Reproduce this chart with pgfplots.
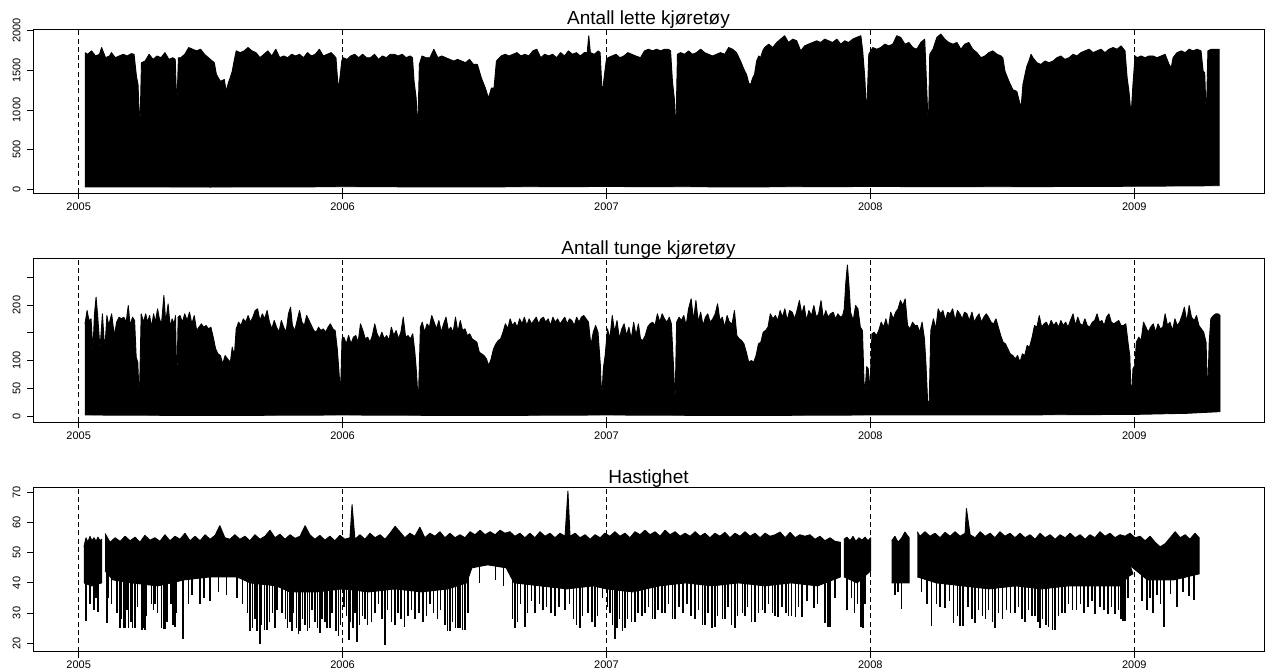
\documentclass[border=0pt]{standalone}
\usepackage{fontspec}
\setmainfont{Liberation Sans}
\usepackage{pgfplots}
\usepackage{pgfplotstable}
\pgfplotsset{compat=1.18}

\pgfplotsset{
  panel/.style={
    scale only axis, width=1231pt, height=164pt, anchor=north west,
    xmin=2004.827, xmax=2009.4915,
    xtick={2005,2006,2007,2008,2009},
    xticklabels={2005,2006,2007,2008,2009},
    tick align=outside, major tick length=6pt, tick pos=left,
    xmajorgrids, major grid style={black, line width=1pt, dash pattern=on 5pt off 3.3pt},
    axis line style={line width=0.9pt}, tick style={black, line width=0.8pt},
    ticklabel style={font=\fontsize{11}{13}\selectfont},
    xticklabel style={anchor=north, inner sep=0pt, yshift=-3.4pt},
    yticklabel style={rotate=90, anchor=south, inner sep=0pt, yshift=6.3pt},
    title style={at={(0.5,1)}, anchor=base, yshift=-1.7pt, inner sep=0pt, font=\fontsize{19}{22}\selectfont},
    cycle list={{black, fill=black, line width=0.9pt, line join=round, mark=none}},
  },
  band/.style={black, fill=black, line width=0.9pt, line join=round, mark=none},
  spikes/.style={draw=none, fill=none, mark=none, forget plot,
    error bars/.cd, y dir=plus, y explicit, error mark=none,
    error bar style={draw=black, solid, line width=1.3pt}},
}

% ---------- Panel 1: upper and lower envelopes ----------
\pgfplotstableread{
2005.024 1723
2005.034 1702
2005.049 1745
2005.064 1681
2005.079 1702
2005.087 1787
2005.102 1659
2005.117 1681
2005.124 1723
2005.139 1659
2005.154 1681
2005.169 1702
2005.184 1681
2005.199 1710
2005.210 1702
2005.219 1425
2005.225 1319
2005.232 723
2005.238 1596
2005.252 1617
2005.267 1702
2005.282 1638
2005.297 1681
2005.312 1659
2005.327 1723
2005.342 1638
2005.357 1659
2005.366 1638
2005.372 1021
2005.378 1659
2005.387 1659
2005.402 1702
2005.417 1787
2005.432 1766
2005.447 1745
2005.462 1766
2005.477 1702
2005.499 1638
2005.514 1596
2005.522 1447
2005.537 1362
2005.552 1383
2005.559 1234
2005.567 1340
2005.574 1404
2005.582 1489
2005.589 1617
2005.597 1745
2005.612 1723
2005.627 1745
2005.642 1787
2005.657 1745
2005.672 1723
2005.687 1659
2005.702 1702
2005.717 1745
2005.732 1681
2005.747 1766
2005.762 1659
2005.777 1681
2005.792 1659
2005.807 1702
2005.822 1681
2005.837 1702
2005.852 1659
2005.867 1723
2005.882 1681
2005.897 1702
2005.912 1766
2005.927 1681
2005.942 1702
2005.957 1723
2005.969 1681
2005.975 1659
2005.984 1255
2005.990 1404
2005.997 1617
2006.002 1659
2006.017 1638
2006.031 1681
2006.046 1702
2006.061 1659
2006.076 1702
2006.091 1659
2006.106 1659
2006.121 1702
2006.136 1638
2006.151 1681
2006.166 1659
2006.181 1702
2006.196 1702
2006.211 1681
2006.226 1702
2006.241 1659
2006.256 1681
2006.265 1659
2006.271 1362
2006.279 1149
2006.285 723
2006.291 1574
2006.301 1681
2006.316 1659
2006.331 1659
2006.346 1766
2006.361 1659
2006.376 1681
2006.391 1659
2006.406 1638
2006.421 1617
2006.436 1638
2006.451 1617
2006.466 1596
2006.481 1638
2006.496 1574
2006.511 1574
2006.526 1404
2006.541 1277
2006.553 1149
2006.564 1277
2006.574 1277
2006.583 1617
2006.601 1681
2006.616 1702
2006.631 1681
2006.646 1702
2006.661 1723
2006.676 1681
2006.691 1702
2006.706 1681
2006.721 1745
2006.736 1766
2006.751 1659
2006.766 1702
2006.781 1681
2006.796 1702
2006.811 1659
2006.826 1723
2006.841 1681
2006.856 1745
2006.871 1702
2006.886 1723
2006.901 1681
2006.916 1723
2006.927 1723
2006.933 1936
2006.939 1723
2006.954 1702
2006.969 1745
2006.976 1723
2006.984 1191
2006.991 1404
2006.999 1617
2007.006 1659
2007.021 1681
2007.036 1702
2007.051 1659
2007.066 1681
2007.081 1723
2007.096 1702
2007.111 1681
2007.129 1659
2007.144 1745
2007.159 1766
2007.175 1745
2007.190 1766
2007.205 1745
2007.220 1766
2007.235 1766
2007.243 1745
2007.250 1362
2007.257 1149
2007.263 723
2007.269 1702
2007.281 1723
2007.296 1702
2007.311 1745
2007.326 1702
2007.341 1723
2007.357 1766
2007.372 1723
2007.387 1702
2007.402 1681
2007.417 1702
2007.432 1723
2007.448 1702
2007.463 1787
2007.478 1766
2007.493 1723
2007.508 1617
2007.524 1489
2007.531 1447
2007.539 1340
2007.546 1319
2007.554 1404
2007.561 1447
2007.569 1617
2007.577 1681
2007.584 1659
2007.592 1745
2007.599 1787
2007.615 1830
2007.630 1787
2007.645 1851
2007.660 1893
2007.675 1936
2007.690 1851
2007.706 1893
2007.721 1872
2007.736 1745
2007.751 1808
2007.766 1830
2007.781 1851
2007.797 1872
2007.812 1851
2007.827 1893
2007.842 1872
2007.857 1851
2007.873 1893
2007.888 1830
2007.903 1872
2007.918 1851
2007.933 1893
2007.948 1915
2007.964 1936
2007.971 1745
2007.979 1404
2007.986 936
2007.994 1702
2008.009 1787
2008.024 1766
2008.039 1787
2008.055 1830
2008.070 1808
2008.085 1830
2008.100 1936
2008.115 1915
2008.131 1830
2008.146 1851
2008.161 1787
2008.176 1766
2008.191 1851
2008.206 1893
2008.211 1489
2008.215 1149
2008.220 723
2008.225 1702
2008.237 1766
2008.252 1915
2008.267 1957
2008.282 1893
2008.297 1851
2008.313 1830
2008.328 1851
2008.343 1766
2008.358 1830
2008.373 1851
2008.388 1766
2008.404 1723
2008.419 1659
2008.434 1681
2008.449 1723
2008.464 1745
2008.480 1702
2008.495 1681
2008.502 1659
2008.510 1489
2008.525 1362
2008.540 1255
2008.555 1234
2008.563 1128
2008.571 1021
2008.578 1319
2008.586 1447
2008.593 1553
2008.601 1617
2008.609 1702
2008.616 1659
2008.631 1596
2008.646 1574
2008.662 1617
2008.677 1596
2008.692 1617
2008.707 1659
2008.722 1681
2008.737 1638
2008.753 1659
2008.768 1702
2008.783 1681
2008.798 1723
2008.813 1745
2008.829 1766
2008.844 1723
2008.859 1745
2008.874 1766
2008.889 1723
2008.904 1766
2008.920 1787
2008.935 1766
2008.950 1808
2008.965 1745
2008.973 1404
2008.980 1234
2008.988 936
2008.995 1319
2009.003 1681
2009.011 1659
2009.026 1681
2009.041 1659
2009.056 1681
2009.071 1681
2009.086 1659
2009.102 1681
2009.117 1702
2009.132 1574
2009.140 1532
2009.147 1659
2009.162 1723
2009.178 1745
2009.193 1723
2009.208 1766
2009.223 1745
2009.238 1766
2009.253 1745
2009.261 1489
2009.267 1468
2009.273 872
2009.279 1745
2009.291 1766
2009.306 1766
2009.322 1766
}\topone
\pgfplotstableread{
2005.024 30
2005.500 28
2006.000 32
2006.500 30
2007.000 35
2007.500 30
2008.000 35
2008.500 32
2009.000 38
2009.322 45
}\botone

% ---------- Panel 2 ----------
\pgfplotstableread{
2005.024 166
2005.032 190
2005.039 172
2005.047 175
2005.054 118
2005.060 184
2005.066 214
2005.072 181
2005.081 121
2005.090 184
2005.099 118
2005.107 181
2005.114 163
2005.125 184
2005.135 145
2005.144 169
2005.153 178
2005.162 175
2005.171 178
2005.180 169
2005.188 199
2005.195 163
2005.204 178
2005.212 172
2005.218 106
2005.224 97
2005.230 26
2005.237 184
2005.246 169
2005.254 184
2005.261 169
2005.269 181
2005.276 160
2005.284 184
2005.291 169
2005.299 193
2005.306 175
2005.314 166
2005.323 217
2005.330 169
2005.339 202
2005.347 160
2005.354 175
2005.362 166
2005.367 181
2005.372 50
2005.377 178
2005.384 181
2005.393 169
2005.402 184
2005.411 172
2005.420 187
2005.429 166
2005.438 181
2005.447 154
2005.456 160
2005.465 166
2005.474 160
2005.483 163
2005.492 157
2005.501 160
2005.510 142
2005.519 121
2005.528 112
2005.537 109
2005.546 94
2005.555 109
2005.564 103
2005.575 97
2005.582 124
2005.590 109
2005.597 157
2005.606 169
2005.615 163
2005.624 175
2005.633 169
2005.642 181
2005.651 169
2005.660 178
2005.669 190
2005.678 193
2005.687 172
2005.696 184
2005.705 175
2005.714 190
2005.723 169
2005.732 157
2005.741 172
2005.750 160
2005.759 151
2005.768 172
2005.777 160
2005.786 151
2005.795 184
2005.803 196
2005.810 163
2005.819 154
2005.828 172
2005.837 190
2005.846 169
2005.855 163
2005.864 181
2005.873 172
2005.882 163
2005.891 154
2005.900 151
2005.909 160
2005.918 154
2005.927 157
2005.936 151
2005.945 160
2005.954 166
2005.963 157
2005.972 154
2005.980 121
2005.986 83
2005.992 38
2005.998 139
2006.005 142
2006.014 130
2006.023 145
2006.032 130
2006.041 142
2006.050 145
2006.059 133
2006.068 166
2006.077 154
2006.086 139
2006.095 142
2006.104 133
2006.113 145
2006.122 166
2006.131 148
2006.140 139
2006.149 151
2006.158 139
2006.167 145
2006.176 136
2006.185 160
2006.194 145
2006.203 154
2006.212 139
2006.221 151
2006.230 178
2006.239 142
2006.248 145
2006.257 139
2006.266 148
2006.274 115
2006.280 80
2006.287 23
2006.295 160
2006.302 169
2006.311 151
2006.320 166
2006.329 160
2006.338 181
2006.347 169
2006.356 157
2006.365 172
2006.374 151
2006.383 166
2006.392 178
2006.401 154
2006.410 160
2006.419 151
2006.428 178
2006.437 151
2006.446 172
2006.455 154
2006.464 157
2006.473 145
2006.482 148
2006.491 139
2006.500 136
2006.509 133
2006.518 115
2006.527 112
2006.536 109
2006.545 103
2006.554 91
2006.563 103
2006.572 121
2006.581 130
2006.590 136
2006.599 139
2006.608 151
2006.617 166
2006.626 157
2006.635 175
2006.644 163
2006.653 169
2006.662 160
2006.671 175
2006.680 166
2006.689 178
2006.698 163
2006.707 175
2006.716 166
2006.725 172
2006.734 178
2006.743 166
2006.752 175
2006.761 178
2006.770 169
2006.779 175
2006.788 163
2006.797 178
2006.806 169
2006.815 175
2006.824 166
2006.833 172
2006.842 178
2006.851 166
2006.860 175
2006.869 172
2006.878 163
2006.887 178
2006.896 169
2006.905 178
2006.914 181
2006.923 175
2006.932 169
2006.941 127
2006.950 151
2006.959 163
2006.968 151
2006.977 91
2006.982 29
2006.988 85
2006.995 109
2007.004 157
2007.013 139
2007.022 181
2007.031 151
2007.040 172
2007.049 139
2007.058 157
2007.067 166
2007.076 145
2007.085 160
2007.094 139
2007.103 169
2007.112 145
2007.121 166
2007.129 139
2007.138 136
2007.147 145
2007.156 160
2007.165 166
2007.175 169
2007.184 163
2007.193 184
2007.202 169
2007.211 184
2007.220 175
2007.229 169
2007.238 178
2007.246 166
2007.254 91
2007.260 26
2007.266 169
2007.275 178
2007.284 172
2007.293 181
2007.302 163
2007.311 193
2007.321 211
2007.330 172
2007.339 208
2007.348 169
2007.357 187
2007.366 163
2007.375 178
2007.384 184
2007.393 169
2007.403 175
2007.412 184
2007.421 202
2007.430 172
2007.439 178
2007.448 160
2007.457 181
2007.466 169
2007.476 166
2007.485 190
2007.494 145
2007.503 139
2007.512 136
2007.521 130
2007.530 115
2007.539 97
2007.549 100
2007.558 97
2007.567 109
2007.576 130
2007.585 133
2007.594 151
2007.603 154
2007.612 160
2007.621 184
2007.631 175
2007.640 181
2007.649 172
2007.658 190
2007.667 178
2007.676 193
2007.685 172
2007.694 190
2007.704 187
2007.713 175
2007.722 190
2007.731 208
2007.740 184
2007.749 199
2007.758 172
2007.767 190
2007.777 181
2007.786 199
2007.795 178
2007.804 184
2007.813 208
2007.822 175
2007.831 190
2007.840 178
2007.849 184
2007.859 187
2007.868 175
2007.877 184
2007.886 178
2007.895 181
2007.901 193
2007.907 241
2007.913 272
2007.919 235
2007.925 187
2007.935 172
2007.944 199
2007.953 193
2007.962 160
2007.970 154
2007.976 62
2007.980 44
2007.986 89
2007.992 85
2007.998 44
2008.006 148
2008.014 151
2008.023 145
2008.032 154
2008.041 169
2008.050 160
2008.059 175
2008.068 157
2008.077 187
2008.087 175
2008.096 187
2008.105 193
2008.114 208
2008.123 199
2008.132 211
2008.141 163
2008.150 157
2008.160 169
2008.169 163
2008.178 163
2008.187 151
2008.196 169
2008.205 139
2008.211 91
2008.217 26
2008.223 26
2008.229 154
2008.239 175
2008.248 157
2008.257 193
2008.266 184
2008.275 190
2008.284 172
2008.293 187
2008.302 184
2008.312 193
2008.321 172
2008.330 190
2008.339 184
2008.348 175
2008.357 187
2008.366 184
2008.375 172
2008.385 187
2008.394 169
2008.403 178
2008.412 184
2008.421 169
2008.430 178
2008.439 184
2008.448 178
2008.457 169
2008.467 166
2008.476 175
2008.485 160
2008.494 145
2008.503 133
2008.512 130
2008.521 121
2008.530 112
2008.540 109
2008.549 103
2008.558 109
2008.567 97
2008.576 112
2008.585 109
2008.594 127
2008.603 124
2008.613 142
2008.622 163
2008.631 160
2008.640 181
2008.649 160
2008.658 166
2008.667 169
2008.676 160
2008.685 172
2008.695 163
2008.704 169
2008.713 160
2008.722 172
2008.731 163
2008.740 169
2008.749 160
2008.758 172
2008.768 184
2008.777 163
2008.786 178
2008.795 166
2008.804 163
2008.813 175
2008.822 163
2008.831 160
2008.841 169
2008.850 172
2008.859 184
2008.868 169
2008.877 172
2008.886 163
2008.895 178
2008.904 184
2008.913 169
2008.923 166
2008.932 169
2008.941 172
2008.950 163
2008.959 163
2008.968 166
2008.977 130
2008.983 109
2008.989 26
2008.995 85
2009.002 91
2009.008 133
2009.017 142
2009.026 136
2009.035 169
2009.044 160
2009.053 151
2009.062 160
2009.072 166
2009.081 151
2009.090 166
2009.099 157
2009.108 160
2009.117 184
2009.126 163
2009.135 169
2009.145 154
2009.154 175
2009.163 163
2009.172 169
2009.181 181
2009.190 196
2009.199 169
2009.208 199
2009.217 178
2009.227 172
2009.236 181
2009.245 163
2009.254 157
2009.263 151
2009.272 133
2009.278 38
2009.284 133
2009.290 175
2009.300 181
2009.309 184
2009.318 184
2009.325 181
}\toptwo
\pgfplotstableread{
2005.024 2
2005.500 1
2006.000 2
2006.500 1
2007.000 2
2007.500 1
2008.000 2
2008.500 2
2009.000 3
2009.200 5
2009.325 8
}\bottwo

% ---------- Panel 3: five segments (upper envelope, lower envelope) ----------
\pgfplotstableread{
2005.020 52
2005.028 55
2005.035 53.5
2005.043 55.5
2005.050 54
2005.058 55
2005.066 53.8
2005.073 55.2
2005.081 54
2005.087 54.5
}\topthreeA
\pgfplotstableread{
2005.020 40
2005.050 39
2005.087 40
}\botthreeA
\pgfplotstableread{
2005.100 56.4
2005.119 53.5
2005.138 55.0
2005.157 53.8
2005.176 55.5
2005.195 54.0
2005.214 55.2
2005.232 53.5
2005.251 55.8
2005.270 54.2
2005.289 55.0
2005.308 53.8
2005.327 56.0
2005.346 54.0
2005.365 55.5
2005.384 54.5
2005.403 56.5
2005.422 54.0
2005.441 55.5
2005.460 54.0
2005.479 56.0
2005.498 54.5
2005.517 55.8
2005.535 59.0
2005.554 55.0
2005.573 54.5
2005.592 56.0
2005.611 54.5
2005.630 55.5
2005.649 54.0
2005.668 56.0
2005.687 54.5
2005.706 55.5
2005.725 57.5
2005.744 55.0
2005.763 56.2
2005.782 54.5
2005.801 56.0
2005.820 54.8
2005.839 55.5
2005.858 59.0
2005.876 56.0
2005.895 54.5
2005.914 55.8
2005.933 54.2
2005.952 55.5
2005.971 54.0
2005.990 55.8
2006.009 54.5
2006.028 55.0
2006.036 66.0
2006.047 54.5
2006.066 56.0
2006.085 54.5
2006.104 56.5
2006.123 55.0
2006.142 56.0
2006.161 54.5
2006.180 56.5
2006.199 58.8
2006.217 57.0
2006.236 55.0
2006.255 56.5
2006.274 55.5
2006.293 58.5
2006.312 55.0
2006.331 56.5
2006.350 55.5
2006.369 57.0
2006.388 55.0
2006.407 56.5
2006.426 55.0
2006.445 56.0
2006.464 55.0
2006.483 57.0
2006.502 56.0
2006.521 57.5
2006.540 56.0
2006.559 57.0
2006.578 56.0
2006.597 57.5
2006.615 56.5
2006.634 57.0
2006.653 55.5
2006.672 56.5
2006.691 55.0
2006.710 56.5
2006.729 55.0
2006.748 57.0
2006.767 55.5
2006.786 56.5
2006.805 55.0
2006.824 56.5
2006.843 55.5
2006.854 70.5
2006.862 55.5
2006.881 56.5
2006.900 55.0
2006.919 56.0
2006.938 54.5
2006.957 56.0
2006.976 55.0
2006.994 56.5
2007.013 55.5
2007.032 57.0
2007.051 55.5
2007.070 56.5
2007.089 55.0
2007.108 57.0
2007.127 56.0
2007.146 57.5
2007.165 56.0
2007.184 57.0
2007.203 55.5
2007.222 57.5
2007.241 56.0
2007.260 57.0
2007.279 55.5
2007.298 56.5
2007.317 55.5
2007.336 57.0
2007.355 55.5
2007.373 56.5
2007.392 55.0
2007.411 56.5
2007.430 55.5
2007.449 56.8
2007.468 55.0
2007.487 56.5
2007.506 55.5
2007.525 57.0
2007.544 55.5
2007.563 56.5
2007.582 55.0
2007.601 56.5
2007.620 55.5
2007.639 56.0
2007.658 56.9
2007.677 55.0
2007.696 56.8
2007.715 55.0
2007.733 56.0
2007.752 55.5
2007.771 56.0
2007.790 54.5
2007.809 55.5
2007.828 54.0
2007.847 55.0
2007.866 53.8
2007.887 53.5
}\topthreeB
\pgfplotstableread{
2005.100 44
2005.130 41
2005.200 40
2005.300 39
2005.400 41
2005.500 42
2005.600 42
2005.650 40
2005.750 39
2005.800 37
2005.900 37
2006.000 38
2006.100 37
2006.200 38
2006.300 37
2006.400 38
2006.470 40
2006.490 45
2006.550 46
2006.620 45
2006.650 40
2006.750 39
2006.850 38
2006.950 39
2007.000 38
2007.100 37
2007.200 39
2007.300 40
2007.400 39
2007.500 40
2007.600 39
2007.700 40
2007.800 39
2007.887 42
}\botthreeB
\pgfplotstableread{
2007.900 54.5
2007.911 55.2
2007.923 54.0
2007.934 55.5
2007.945 53.8
2007.957 55.0
2007.968 54.2
2007.980 55.2
2007.991 54.0
2008.001 55.0
}\topthreeC
\pgfplotstableread{
2007.900 42
2007.950 40
2008.001 44
}\botthreeC
\pgfplotstableread{
2008.081 54
2008.093 55.5
2008.105 53.5
2008.119 55
2008.131 56.9
2008.147 55
}\topthreeD
\pgfplotstableread{
2008.081 40
2008.147 40
}\botthreeD
\pgfplotstableread{
2008.178 57
2008.188 55.5
2008.207 57
2008.226 55.5
2008.245 56.5
2008.264 55
2008.283 56.8
2008.302 55.5
2008.321 57
2008.340 55.5
2008.359 56.5
2008.364 64.7
2008.378 56
2008.397 55
2008.416 57
2008.435 55.5
2008.454 56.5
2008.472 55
2008.491 57
2008.510 55.5
2008.529 56.5
2008.548 55
2008.567 56.5
2008.586 55
2008.605 56
2008.624 54.5
2008.643 56.5
2008.662 55
2008.681 56
2008.700 54.5
2008.719 56
2008.738 55
2008.757 56.5
2008.776 55
2008.795 56
2008.814 54.5
2008.832 56
2008.851 55
2008.870 57
2008.889 55.5
2008.908 56.5
2008.927 55
2008.946 56
2008.965 55.5
2008.984 56.5
2009.003 55
2009.022 55.5
2009.041 54
2009.060 55.5
2009.079 53.5
2009.098 52
2009.117 53
2009.136 55
2009.155 57
2009.174 55
2009.193 56
2009.211 54.5
2009.230 56.5
2009.246 55
}\topthreeE
\pgfplotstableread{
2008.178 42
2008.250 40
2008.350 39
2008.450 38
2008.550 39
2008.650 38
2008.750 39
2008.850 39
2008.950 39
2008.975 42
2008.984 45.8
2008.995 43
2009.050 41
2009.150 41
2009.246 43
}\botthreeE

% Downward speed dips of panel 3: x, lowest value, extent up into the band
\pgfplotstableread{
2005.028 27.3 18.7
2005.043 33 13
2005.058 31 15
2005.066 35 11
2005.073 30.3 15.7
2005.107 26.7 19.3
2005.113 35 11
2005.125 33 13
2005.145 30 16
2005.157 25 21
2005.163 28 18
2005.170 25 21
2005.176 25 21
2005.183 31 15
2005.190 25 21
2005.198 27 19
2005.205 25 21
2005.214 25 21
2005.222 32 14
2005.240 24.5 21.5
2005.246 25 21
2005.251 24.2 21.8
2005.258 29 17
2005.275 33 13
2005.283 31 15
2005.289 33 13
2005.300 30 16
2005.315 25 21
2005.322 24.8 21.2
2005.327 24.8 21.2
2005.335 27 19
2005.350 33 13
2005.358 26 20
2005.365 25.5 20.5
2005.372 30 16
2005.395 21.4 24.6
2005.415 33 13
2005.430 36 10
2005.460 33 13
2005.475 35 11
2005.498 34 12
2005.530 37 9
2005.560 36 10
2005.600 35 11
2005.621 33 13
2005.640 30 16
2005.649 24 22
2005.660 25 21
2005.668 28 18
2005.676 24 22
2005.687 19.8 26.2
2005.693 26 20
2005.705 24.5 21.5
2005.714 24.5 21.5
2005.722 27 19
2005.735 30 16
2005.744 25 21
2005.752 31 15
2005.770 30 16
2005.785 28 18
2005.792 25 21
2005.801 27 19
2005.808 24 22
2005.815 30 16
2005.826 25 21
2005.833 23 23
2005.839 24 22
2005.848 28 18
2005.858 26 20
2005.866 24 22
2005.876 25 21
2005.884 31 15
2005.895 27 19
2005.905 25 21
2005.914 23.5 22.5
2005.922 28 18
2005.933 27 19
2005.941 25 21
2005.952 25 21
2005.960 30 16
2005.975 24 22
2005.985 22.5 23.5
2005.992 26 20
2006.005 32 14
2006.015 29 17
2006.024 21 25
2006.030 27 19
2006.040 25 21
2006.047 30 16
2006.055 20.5 25.5
2006.063 26 20
2006.075 29 17
2006.085 28 18
2006.095 26 20
2006.110 27 19
2006.123 30 16
2006.135 33 13
2006.150 28 18
2006.161 19.2 26.8
2006.170 31 15
2006.185 27 19
2006.199 26 20
2006.210 30 16
2006.222 28 18
2006.236 25.5 20.5
2006.248 29 17
2006.262 31 15
2006.274 28 18
2006.290 30 16
2006.305 27 19
2006.318 29 17
2006.331 33 13
2006.345 30 16
2006.360 28 18
2006.372 31 15
2006.388 26 20
2006.397 24 22
2006.407 24 22
2006.417 27 19
2006.427 25 21
2006.437 25 21
2006.445 25 21
2006.455 24.5 21.5
2006.464 24.5 21.5
2006.475 30 16
2006.520 40 6
2006.580 41 5
2006.610 39 7
2006.645 28 18
2006.653 25 21
2006.662 27 19
2006.675 33 13
2006.691 25.5 20.5
2006.700 30 16
2006.715 34 12
2006.729 30 16
2006.745 33 13
2006.760 31 15
2006.774 32 14
2006.790 30 16
2006.805 29 17
2006.820 32 14
2006.843 31 15
2006.860 33 13
2006.875 28 18
2006.887 26 20
2006.900 25 21
2006.910 29 17
2006.930 30 16
2006.945 27 19
2006.957 25.5 20.5
2006.965 29 17
2006.985 35 11
2007.005 32 14
2007.013 30 16
2007.022 26 20
2007.032 21.5 24.5
2007.040 25 21
2007.050 28 18
2007.062 24 22
2007.070 25 21
2007.080 28 18
2007.095 27 19
2007.108 27 19
2007.120 30 16
2007.135 29 17
2007.146 30 16
2007.160 32 14
2007.175 28 18
2007.184 28 18
2007.195 31 15
2007.210 30 16
2007.222 30 16
2007.235 33 13
2007.250 28 18
2007.260 28 18
2007.275 32 14
2007.290 30 16
2007.305 33 13
2007.320 29 17
2007.336 28 18
2007.350 31 15
2007.365 26 20
2007.373 26 20
2007.385 30 16
2007.400 25 21
2007.411 25.5 20.5
2007.422 29 17
2007.440 28 18
2007.449 28 18
2007.460 32 14
2007.475 26 20
2007.487 25 21
2007.497 29 17
2007.515 30 16
2007.525 29 17
2007.535 32 14
2007.550 27 19
2007.563 27 19
2007.575 30 16
2007.590 31 15
2007.601 30 16
2007.615 33 13
2007.630 30 16
2007.639 29 17
2007.650 28.6 17.4
2007.665 32 14
2007.680 30 16
2007.690 29 17
2007.702 29 17
2007.715 28.6 17.4
2007.728 32 14
2007.741 28.6 17.4
2007.760 34 12
2007.786 31.5 14.5
2007.800 33 13
2007.828 26.6 19.4
2007.840 25.3 20.7
2007.847 25.3 20.7
2007.866 35 11
2007.911 30.9 15.1
2007.928 35 11
2007.940 30 16
2007.950 33 13
2007.964 25.3 20.7
2007.972 24.9 21.1
2007.980 33 13
2008.093 36 10
2008.105 37 9
2008.119 31.4 14.6
2008.194 37 9
2008.215 33 13
2008.232 25.6 20.4
2008.250 33 13
2008.264 32 14
2008.283 31.5 14.5
2008.300 34 12
2008.314 26.6 19.4
2008.330 29 17
2008.340 25.6 20.4
2008.351 25.6 20.4
2008.370 32 14
2008.385 28 18
2008.397 26.6 19.4
2008.410 31 15
2008.425 29 17
2008.435 28 18
2008.448 31 15
2008.462 27 19
2008.472 25 21
2008.485 30 16
2008.500 28 18
2008.515 31 15
2008.530 30 16
2008.548 30 16
2008.562 32 14
2008.575 28 18
2008.586 27 19
2008.600 31 15
2008.612 29 17
2008.624 29 17
2008.635 27 19
2008.643 25 21
2008.652 28 18
2008.665 26 20
2008.675 25.5 20.5
2008.690 24.5 21.5
2008.700 24.5 21.5
2008.712 29 17
2008.726 30 16
2008.738 30 16
2008.752 33 13
2008.766 31 15
2008.780 31 15
2008.795 33 13
2008.810 30 16
2008.825 32 14
2008.840 34 12
2008.851 29.8 16.2
2008.870 32 14
2008.885 31 15
2008.900 29.8 16.2
2008.915 32 14
2008.927 29.8 16.2
2008.940 31 15
2008.950 28 18
2008.957 27.5 18.5
2008.965 27.5 18.5
2008.976 35 11
2009.029 34 12
2009.048 31 15
2009.060 35 11
2009.071 30 16
2009.086 36 10
2009.100 33 13
2009.113 25.3 20.7
2009.136 36.4 9.6
2009.162 32 14
2009.185 37 9
2009.207 35.7 10.3
2009.226 34.2 11.8
}\dipsthree

% Each band = upper envelope followed by the lower envelope in reverse order
\newcommand\band[2]{%
  \pgfplotstablesort[sort key=0, sort cmp={float >}]{\tmprev}{#2}%
  \pgfplotstablevertcat{#1}{\tmprev}%
}
\band{\topone}{\botone}
\band{\toptwo}{\bottwo}
\band{\topthreeA}{\botthreeA}
\band{\topthreeB}{\botthreeB}
\band{\topthreeC}{\botthreeC}
\band{\topthreeD}{\botthreeD}
\band{\topthreeE}{\botthreeE}

\begin{document}
\begin{tikzpicture}
\useasboundingbox (0,0) rectangle (1270pt,-669pt);

\begin{axis}[panel, at={(33pt,-29pt)}, ymin=-47, ymax=2021,
  ytick={0,500,1000,1500,2000}, yticklabels={0,500,1000,1500,2000},
  title={Antall lette kjøretøy}]
\addplot[band] table {\topone};
\end{axis}

\begin{axis}[panel, at={(33pt,-258.3pt)}, ymin=-11.2, ymax=284,
  ytick={0,50,100,150,200,250}, yticklabels={0,50,100,,200,},
  title={Antall tunge kjøretøy}]
\addplot[band] table {\toptwo};
\end{axis}

\begin{axis}[panel, at={(33pt,-487.5pt)}, ymin=17.2, ymax=71.7,
  ytick={20,30,40,50,60,70}, yticklabels={20,30,40,50,60,70},
  title={Hastighet}]
\addplot[band] table {\topthreeA};
\addplot[band] table {\topthreeB};
\addplot[band] table {\topthreeC};
\addplot[band] table {\topthreeD};
\addplot[band] table {\topthreeE};
\addplot[spikes] table[x index=0, y index=1, y error plus index=2] {\dipsthree};
\end{axis}
\end{tikzpicture}
\end{document}
